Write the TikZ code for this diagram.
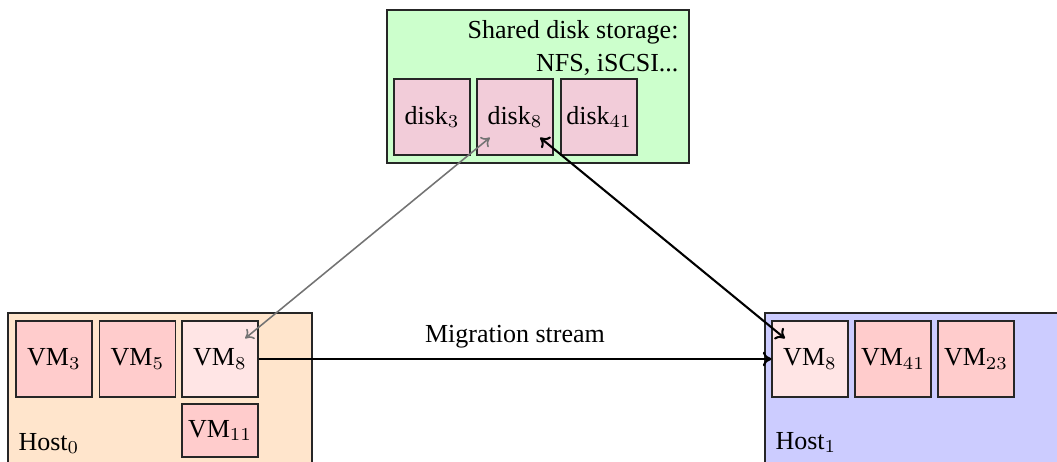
\documentclass[tikz,border=0pt]{standalone}
\usepackage{fontspec}
\setmainfont{Liberation Serif}
\usetikzlibrary{arrows.meta}
\begin{document}
\begin{tikzpicture}[x=0.3846pt,y=-0.3846pt,
  box/.style={draw=black!85, line width=0.45pt, minimum width=29.2pt, minimum height=29.2pt, inner sep=0pt},
  vm/.style={box, fill=red!20},
  vmmig/.style={box, fill=red!10},
  disk/.style={box, fill=purple!20},
  container/.style={draw=black!85, line width=0.45pt},
  lbl/.style={inner sep=0pt, anchor=base west},
  rlbl/.style={inner sep=0pt, anchor=base east},
  link/.style={line width=0.8pt, {To[length=3.3pt,width=5.6pt]}-{To[length=3.3pt,width=5.6pt]}, shorten <=12.5pt, shorten >=12.5pt},
  glink/.style={line width=0.6pt, black!55, {To[length=3pt,width=5pt]}-{To[length=3pt,width=5pt]}, shorten <=12.5pt, shorten >=12.5pt}]
\useasboundingbox (0,0) rectangle (1057,461);
% containers
\draw[container, fill=green!20] (387,10) rectangle (689,163);
\draw[container, fill=orange!20] (8,313) rectangle (312,490);
\draw[container, fill=blue!20] (765,313) rectangle (1080,490);
% storage
\node[rlbl] (st1) at (679,38) {Shared disk storage:};
\node[rlbl] (st2) at (679,71) {NFS, iSCSI...};
\node[disk] (disk3) at (432,117) {disk$_3$};
\node[disk] (disk8) at (515,117) {disk$_8$};
\node[disk] (disk41) at (599,117) {disk$_{41}$};
% host 0
\node[vm] (vm3) at (54,359) {VM$_3$};
\node[vm] (vm5) at (137.5,359) {VM$_5$};
\node[vmmig] (vm8a) at (220,359) {VM$_8$};
\node[vm, minimum height=20.4pt] (vm11) at (220,430.5) {VM$_{11}$};
\node[lbl] (host0) at (18,450) {Host$_0$};
% host 1
\node[vmmig] (vm8b) at (810,359) {VM$_8$};
\node[vm] (vm41) at (893,359) {VM$_{41}$};
\node[vm] (vm23) at (976,359) {VM$_{23}$};
\node[lbl] (host1) at (775,449) {Host$_1$};
% connectors
\draw[glink] (vm8a.center) -- (disk8.center);
\draw[link] (disk8.center) -- (vm8b.center);
\draw[line width=0.8pt, -{To[length=3.3pt,width=5.6pt]}] (vm8a.east) -- node[pos=0.5, anchor=base, inner sep=0pt, yshift=6.2pt] (mig) {Migration stream} (vm8b.west);
\end{tikzpicture}
\end{document}
